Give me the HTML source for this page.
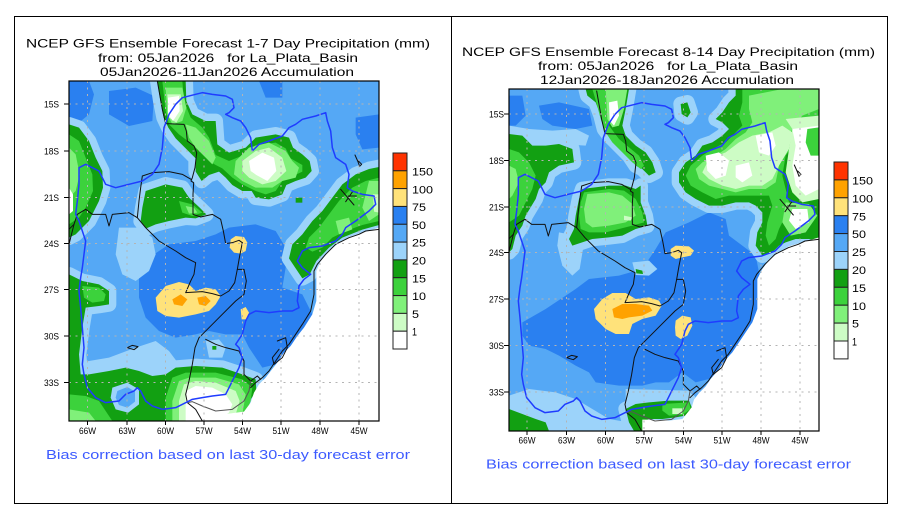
<!DOCTYPE html>
<html><head><meta charset="utf-8"><style>
html,body{margin:0;padding:0;background:#fff;}
svg{display:block;}
text{font-family:"Liberation Sans",sans-serif;}
</style></head><body>
<svg width="908" height="523" viewBox="0 0 908 523" xmlns="http://www.w3.org/2000/svg">
<defs>
<clipPath id="cL"><rect x="0" y="0" width="930" height="1020"/></clipPath>
<clipPath id="cR"><rect x="0" y="0" width="930" height="1026"/></clipPath>
<g id="borders" fill="none" stroke-linejoin="round" stroke-linecap="round">
 <g stroke="#111" stroke-width="3">
  <polyline points="265,0 272,40 280,85 290,128 345,130 352,150 355,180 375,195 383,215 378,260 370,290 366,300 374,305 372,340 372,400 395,408 430,400 455,415 463,450 470,488 490,485 510,478 520,485"/>
  <polyline points="366,295 340,280 300,272 250,275 220,285 215,320 210,360 205,410 180,395 130,400 120,435 110,400 70,400 50,385 25,400 15,430 0,445"/>
  <polyline points="15,430 5,470 0,490"/>
  <polyline points="205,410 230,440 270,480 320,510 350,530 380,545 375,580 365,600 350,635 400,632 430,638 455,645 480,630 497,605 505,565"/>
  <polyline points="520,485 512,525 505,565 525,565 532,600 525,640 500,660 460,700 420,740 390,770 378,800 370,850 360,900 350,940 355,965 380,985 400,1020"/>
  <polyline points="410,775 440,790 470,800 510,810 525,840 525,880 545,900 565,885 575,895"/>
  <polyline points="930,445 890,450 870,460 840,470 800,490 770,520 745,550 735,570 735,640 725,690 700,730 680,760 660,790 640,810 620,840 600,870 580,890 560,905 545,920"/>
  <polyline points="625,780 650,770 655,800 640,830 615,850 610,830 630,805"/>
  <polyline points="175,800 190,793 207,797 195,806 175,800"/>
  <polyline points="858,222 866,240 872,256 878,250 868,240"/>
  <line x1="815" y1="325" x2="855" y2="372"/><line x1="830" y1="362" x2="852" y2="330"/><line x1="838" y1="345" x2="862" y2="345"/>
 </g>
 <polyline stroke="#555" stroke-width="3" points="545,900 540,930 525,960 490,985 440,990 400,975 370,962 355,965"/>
 <polyline stroke="#1f3cff" stroke-width="4.5" points="285,140 300,100 320,70 340,50 380,40 400,35 430,40 470,45 490,55 495,80 480,95 470,100 490,110 515,120 530,140 545,170 550,210 570,190 600,180 640,165 660,140 680,130 700,115 740,105 770,95 775,120 785,150 790,200 800,230 830,250 840,280 835,320 850,330 880,340 915,345 920,370 900,390 860,420 830,440 820,460 800,480 760,495 720,500 700,510 685,540 700,560 725,580 705,595 690,615 685,660 690,680 670,690 640,690 600,695 560,690 540,700 530,720 520,760 500,790 510,800 520,830 510,860 495,890 480,920 470,940 430,945 400,950 370,955 350,965 320,980 280,985 250,975 230,960 215,930 205,920 195,930 170,940 150,960 110,965 80,950 55,920 45,880 40,850 45,800 40,740 35,680 30,630 35,590 40,560 45,520 50,480 40,450 30,420 20,400 25,360 30,310 30,260 50,250 70,260 90,270 100,290 110,310 140,320 180,310 220,300 250,280 270,250 280,200 285,140"/>
</g>
<polygon id="LgBol" points="265,0 350,0 352,60 370,100 410,120 440,120 445,190 480,215 530,200 560,170 620,160 660,170 672,200 700,220 722,240 728,270 710,290 680,300 652,312 640,340 600,355 560,350 548,330 520,330 490,312 470,290 450,272 420,282 398,300 380,272 380,232 350,202 320,172 298,140 284,110 274,60"/>
<polygon id="LgLeft" points="0,130 30,140 60,180 80,230 100,270 102,320 90,360 70,400 60,420 40,440 20,460 0,470"/>
<polygon id="LgLeft2" points="0,580 40,600 90,610 120,630 120,670 90,675 50,680 40,740 30,820 35,880 0,900"/>
<polygon id="LgChaco" points="230,330 290,310 340,320 360,350 392,380 412,400 380,412 350,410 300,420 260,430 232,442 215,420 220,380"/>
<polygon id="LgSE" points="930,258 930,432 880,446 820,470 780,500 742,540 722,580 700,592 680,562 660,532 670,490 700,460 730,420 760,390 790,350 820,310 860,280 900,264"/>
<polygon id="LgBot" points="0,880 60,880 120,870 170,860 210,870 250,885 290,880 320,860 380,855 460,860 520,880 560,895 562,930 545,955 530,990 400,1020 0,1020"/>
<polygon id="RgBol" points="230,0 360,0 350,60 340,110 350,140 380,170 410,190 430,220 440,250 420,260 400,240 380,230 360,200 330,170 300,140 285,120 275,80 260,40 235,20"/>
<polygon id="RgBig" points="680,0 930,0 930,460 900,450 860,450 830,460 810,470 790,490 760,500 740,470 745,430 760,400 760,370 740,350 720,340 680,340 640,350 600,350 560,330 530,310 510,280 510,250 530,220 560,200 580,170 610,160 640,140 660,120 640,100 620,90 640,70 660,40 680,20"/>
<polygon id="RgChaco" points="220,300 300,290 350,290 380,300 395,290 395,340 410,380 415,410 380,420 340,440 300,445 250,450 190,470 180,450 195,420 200,380 210,330"/>
<polygon id="RgLeft" points="0,135 40,140 70,170 110,170 150,165 190,180 195,220 150,230 120,250 110,280 90,300 80,330 50,380 40,410 20,440 10,480 0,490"/>
<polygon id="RgBot" points="350,960 380,945 420,940 480,935 540,935 550,960 530,980 500,985 460,990 420,990 400,1000 405,1026 375,1026 360,1000"/>
<polygon id="RgBL" points="0,960 40,975 80,990 110,1000 120,1026 0,1026"/>
<polygon id="RgDot" points="515,45 535,40 545,70 535,85 518,75"/>
</defs>

<rect width="908" height="523" fill="#fff"/>
<rect x="14.5" y="16.5" width="437" height="487" fill="none" stroke="#000" stroke-width="1"/>
<rect x="451.5" y="16.5" width="436" height="487" fill="none" stroke="#000" stroke-width="1"/>

<g font-size="12" fill="#000">
<text x="26" y="47.5" textLength="404" lengthAdjust="spacingAndGlyphs">NCEP GFS Ensemble Forecast 1-7 Day Precipitation (mm)</text>
<text x="98" y="62" textLength="260" lengthAdjust="spacingAndGlyphs">from: 05Jan2026&#160;&#160;&#160;for La_Plata_Basin</text>
<text x="100" y="76" textLength="254" lengthAdjust="spacingAndGlyphs">05Jan2026-11Jan2026 Accumulation</text>
<text x="462" y="56" textLength="413" lengthAdjust="spacingAndGlyphs">NCEP GFS Ensemble Forecast 8-14 Day Precipitation (mm)</text>
<text x="538" y="70" textLength="260" lengthAdjust="spacingAndGlyphs">from: 05Jan2026&#160;&#160;&#160;for La_Plata_Basin</text>
<text x="540" y="84" textLength="254" lengthAdjust="spacingAndGlyphs">12Jan2026-18Jan2026 Accumulation</text>
</g>

<!-- LEFT MAP -->
<g transform="translate(69,81) scale(0.333333)" clip-path="url(#cL)">
<rect width="930" height="1020" fill="#55A8F5"/>
<g fill="#2A80F0">
<polygon points="0,0 60,0 75,40 60,100 30,125 0,125"/>
<polygon points="120,30 200,20 255,45 250,120 180,135 120,100"/>
<polygon points="570,0 640,0 640,50 590,50"/>
<polygon points="860,110 930,100 930,200 880,205 860,160"/>
<polygon points="210,580 240,530 300,490 380,480 440,460 480,440 560,430 620,450 650,500 650,560 640,620 700,640 730,700 700,760 660,800 620,850 580,860 540,800 520,760 470,760 420,750 380,760 320,770 270,750 230,710 210,650"/>
</g>
<g fill="#9CD3FA">
<polygon points="150,440 210,440 250,470 260,520 240,570 200,600 160,580 140,520"/>
<polygon points="410,780 450,775 470,800 460,830 420,830"/>
<polygon points="0,850 60,840 120,830 200,800 260,780 300,810 330,850 300,870 0,890"/>
</g>
<g fill="#9CD3FA" stroke="#9CD3FA" stroke-width="44" stroke-linejoin="round">
<use href="#LgBol"/><use href="#LgLeft"/><use href="#LgLeft2"/><use href="#LgChaco"/><use href="#LgSE"/><use href="#LgBot"/>
</g>
<g fill="#12A012">
<use href="#LgBol"/><use href="#LgLeft"/><use href="#LgLeft2"/><use href="#LgChaco"/><use href="#LgSE"/><use href="#LgBot"/>
<polygon points="680,350 700,350 700,365 680,365"/>
<polygon points="430,795 442,795 442,806 430,806"/>
</g>
<g fill="#3CD23C">
<polygon points="280,0 340,0 345,60 365,110 400,140 420,170 440,222 480,240 530,220 560,192 620,185 650,202 665,232 700,252 700,272 670,286 640,300 620,330 590,340 560,330 520,310 490,290 460,262 440,252 420,240 400,212 370,190 330,160 300,130 290,90"/>
<polygon points="0,160 30,180 50,230 70,280 72,330 50,380 30,410 0,430"/>
<polygon points="40,615 90,620 110,640 105,660 70,665 45,650"/>
<polygon points="330,360 370,370 400,395 370,405 340,395"/>
<polygon points="930,290 930,420 880,432 830,450 790,470 760,500 730,512 710,500 720,470 750,440 780,400 810,360 850,320 890,300"/>
<polygon points="0,940 50,945 90,960 110,990 130,1020 0,1020"/>
<polygon points="290,950 310,890 350,875 440,875 520,895 550,920 545,960 530,1000 400,1020 290,1020"/>
</g>
<g fill="#80F07A">
<polygon points="290,20 340,20 352,80 340,120 310,130 295,100"/>
<polygon points="350,130 380,140 420,180 440,230 430,250 410,230 380,200 360,170"/>
<polygon points="500,240 540,200 600,185 650,210 670,240 690,260 680,290 640,300 610,320 560,320 520,300 495,280"/>
<polygon points="0,200 20,220 32,280 20,330 0,350"/>
<polygon points="350,375 375,380 385,395 360,398"/>
<polygon points="900,300 930,300 930,400 900,420 880,380 890,340"/>
<polygon points="800,420 840,410 850,445 810,460"/>
<polygon points="0,985 60,995 80,1020 0,1020"/>
<polygon points="310,960 330,900 360,890 440,890 510,910 530,940 520,1000 400,1020 310,1020"/>
</g>
<g fill="#CDFCC5">
<polygon points="295,40 335,40 342,90 322,125 300,110"/>
<polygon points="520,240 560,210 600,200 640,230 652,270 620,300 580,310 540,290 520,270"/>
<polygon points="912,340 930,340 930,395 915,392"/>
<polygon points="330,960 345,910 380,900 440,905 500,930 512,960 500,1000 400,1020 330,1020"/>
</g>
<g fill="#fff">
<polygon points="297,50 330,45 332,90 312,120 297,100"/>
<polygon points="540,240 580,215 615,230 622,270 595,300 562,282 545,270"/>
<polygon points="0,320 12,340 12,390 0,400"/>
<polygon points="350,930 380,915 430,920 470,940 490,970 480,995 420,1020 350,1020"/>
</g>
<polygon fill="#9CD3FA" points="130,920 175,905 210,925 210,970 178,995 140,985 125,950"/>
<polygon fill="#55A8F5" points="145,930 175,918 198,932 198,962 175,980 150,972 140,950"/>
<g fill="#FFE27A">
<polygon points="485,475 500,465 525,468 535,485 530,510 515,518 495,515 482,500"/>
<polygon points="260,650 290,615 330,603 360,610 380,630 410,620 440,625 455,645 440,670 420,690 380,700 330,710 290,705 265,690"/>
<polygon points="515,685 530,678 540,695 535,715 518,715"/>
</g>
<g fill="#FFA200">
<polygon points="310,655 335,640 355,655 340,675 315,670"/>
<polygon points="385,650 410,645 425,660 410,675 390,670"/>
</g>
<polygon fill="#fff" points="930,440 880,455 840,468 810,485 780,510 755,540 742,570 742,660 730,700 705,740 685,765 665,795 645,815 625,845 605,870 590,890 570,910 555,935 545,965 525,992 480,998 430,992 400,985 400,1020 930,1020"/>
<use href="#borders"/>
</g>

<g stroke="#b4b4b4" stroke-width="1" stroke-dasharray="2,4.5">
<line x1="87.5" y1="81" x2="87.5" y2="421"/><line x1="127" y1="81" x2="127" y2="421"/><line x1="165.5" y1="81" x2="165.5" y2="421"/><line x1="204" y1="81" x2="204" y2="421"/><line x1="242.5" y1="81" x2="242.5" y2="421"/><line x1="281" y1="81" x2="281" y2="421"/><line x1="320" y1="81" x2="320" y2="421"/><line x1="359" y1="81" x2="359" y2="421"/>
<line x1="69" y1="104" x2="379" y2="104"/><line x1="69" y1="151" x2="379" y2="151"/><line x1="69" y1="197.5" x2="379" y2="197.5"/><line x1="69" y1="243.5" x2="379" y2="243.5"/><line x1="69" y1="289.5" x2="379" y2="289.5"/><line x1="69" y1="336" x2="379" y2="336"/><line x1="69" y1="382.5" x2="379" y2="382.5"/>
</g>
<rect x="69" y="81" width="310" height="340" fill="none" stroke="#000" stroke-width="1.2"/>
<g stroke="#000" stroke-width="1">
<line x1="64" y1="104" x2="69" y2="104"/><line x1="64" y1="151" x2="69" y2="151"/><line x1="64" y1="197.5" x2="69" y2="197.5"/><line x1="64" y1="243.5" x2="69" y2="243.5"/><line x1="64" y1="289.5" x2="69" y2="289.5"/><line x1="64" y1="336" x2="69" y2="336"/><line x1="64" y1="382.5" x2="69" y2="382.5"/>
<line x1="87.5" y1="421" x2="87.5" y2="425"/><line x1="127" y1="421" x2="127" y2="425"/><line x1="165.5" y1="421" x2="165.5" y2="425"/><line x1="204" y1="421" x2="204" y2="425"/><line x1="242.5" y1="421" x2="242.5" y2="425"/><line x1="281" y1="421" x2="281" y2="425"/><line x1="320" y1="421" x2="320" y2="425"/><line x1="359" y1="421" x2="359" y2="425"/>
</g>
<g font-size="9" fill="#000" text-anchor="end">
<text x="59" y="107.5" textLength="15" lengthAdjust="spacingAndGlyphs">15S</text>
<text x="59" y="154.5" textLength="15" lengthAdjust="spacingAndGlyphs">18S</text>
<text x="59" y="201" textLength="15" lengthAdjust="spacingAndGlyphs">21S</text>
<text x="59" y="247" textLength="15" lengthAdjust="spacingAndGlyphs">24S</text>
<text x="59" y="293" textLength="15" lengthAdjust="spacingAndGlyphs">27S</text>
<text x="59" y="339.5" textLength="15" lengthAdjust="spacingAndGlyphs">30S</text>
<text x="59" y="386" textLength="15" lengthAdjust="spacingAndGlyphs">33S</text>
</g>
<g font-size="9.5" fill="#000">
<text x="79" y="434" textLength="17" lengthAdjust="spacingAndGlyphs">66W</text>
<text x="118.5" y="434" textLength="17" lengthAdjust="spacingAndGlyphs">63W</text>
<text x="157" y="434" textLength="17" lengthAdjust="spacingAndGlyphs">60W</text>
<text x="195.5" y="434" textLength="17" lengthAdjust="spacingAndGlyphs">57W</text>
<text x="234" y="434" textLength="17" lengthAdjust="spacingAndGlyphs">54W</text>
<text x="272.5" y="434" textLength="17" lengthAdjust="spacingAndGlyphs">51W</text>
<text x="311.5" y="434" textLength="17" lengthAdjust="spacingAndGlyphs">48W</text>
<text x="350.5" y="434" textLength="17" lengthAdjust="spacingAndGlyphs">45W</text>
</g>

<g stroke="#222" stroke-width="1">
<rect x="393" y="153" width="14" height="17.8" fill="#FF3300"/>
<rect x="393" y="170.8" width="14" height="17.8" fill="#FFA200"/>
<rect x="393" y="188.6" width="14" height="17.8" fill="#FFE27A"/>
<rect x="393" y="206.5" width="14" height="17.8" fill="#2A80F0"/>
<rect x="393" y="224.3" width="14" height="17.8" fill="#55A8F5"/>
<rect x="393" y="242.1" width="14" height="17.8" fill="#9CD3FA"/>
<rect x="393" y="259.9" width="14" height="17.8" fill="#12A012"/>
<rect x="393" y="277.7" width="14" height="17.8" fill="#3CD23C"/>
<rect x="393" y="295.6" width="14" height="17.8" fill="#80F07A"/>
<rect x="393" y="313.4" width="14" height="17.8" fill="#CDFCC5"/>
<rect x="393" y="331.2" width="14" height="17.8" fill="#fff"/>
</g>
<g font-size="11" fill="#000">
<text x="412" y="175.5" textLength="21" lengthAdjust="spacingAndGlyphs">150</text>
<text x="412" y="193.3" textLength="21" lengthAdjust="spacingAndGlyphs">100</text>
<text x="412" y="211" textLength="14" lengthAdjust="spacingAndGlyphs">75</text>
<text x="412" y="228.8" textLength="14" lengthAdjust="spacingAndGlyphs">50</text>
<text x="412" y="246.6" textLength="14" lengthAdjust="spacingAndGlyphs">25</text>
<text x="412" y="264.4" textLength="14" lengthAdjust="spacingAndGlyphs">20</text>
<text x="412" y="282.3" textLength="14" lengthAdjust="spacingAndGlyphs">15</text>
<text x="412" y="300.1" textLength="14" lengthAdjust="spacingAndGlyphs">10</text>
<text x="412" y="317.9" textLength="7" lengthAdjust="spacingAndGlyphs">5</text>
<text x="412" y="335.7" textLength="5" lengthAdjust="spacingAndGlyphs">1</text>
</g>
<text x="46" y="459" font-size="12.5" fill="#3c5aff" textLength="364" lengthAdjust="spacingAndGlyphs">Bias correction based on last 30-day forecast error</text>

<!-- RIGHT MAP -->
<g transform="translate(509,89) scale(0.333333)" clip-path="url(#cR)">
<rect width="930" height="1026" fill="#55A8F5"/>
<g fill="#2A80F0">
<polygon points="0,20 40,20 50,80 20,110 0,110"/>
<polygon points="90,50 150,40 240,60 250,110 200,120 130,110 100,90"/>
<polygon points="40,700 110,660 200,600 240,570 330,560 400,540 440,480 470,430 540,400 600,370 650,390 660,440 700,470 740,500 760,600 740,700 720,780 680,820 640,850 600,870 560,880 520,850 480,880 440,880 400,890 330,890 260,880 240,850 200,830 150,800 110,780 60,770 40,740"/>
</g>
<g fill="#9CD3FA">
<polygon points="0,110 60,120 130,125 200,120 240,140 230,170 150,165 60,160 0,150"/>
<polygon points="150,430 200,440 222,480 212,540 190,560 160,530 145,470"/>
<polygon points="370,520 420,515 445,540 420,560 380,558"/>
<polygon points="0,920 60,900 140,910 200,930 250,960 300,990 360,1000 380,1026 0,1026"/>
<polygon points="350,900 540,905 560,930 350,950"/>
</g>
<g fill="#9CD3FA" stroke="#9CD3FA" stroke-width="44" stroke-linejoin="round">
<use href="#RgBol"/><use href="#RgBig"/><use href="#RgChaco"/><use href="#RgLeft"/><use href="#RgBot"/><use href="#RgDot"/>
</g>
<g fill="#12A012">
<use href="#RgBol"/><use href="#RgBig"/><use href="#RgChaco"/><use href="#RgLeft"/><use href="#RgBot"/><use href="#RgBL"/><use href="#RgDot"/>
<polygon points="380,540 400,545 402,555 382,553"/>
</g>
<g fill="#3CD23C">
<polygon points="250,0 300,0 295,60 300,110 330,150 360,175 390,200 405,230 395,240 370,220 340,190 310,160 290,130 275,90 262,40"/>
<polygon points="700,0 930,0 930,100 880,120 860,160 830,200 820,260 830,300 840,340 830,380 810,420 800,450 780,470 770,440 775,400 790,350 780,320 740,320 700,320 660,320 620,330 580,310 545,290 530,260 545,230 580,200 610,180 650,160 680,130 700,110 690,80 700,40"/>
<polygon points="225,310 300,300 345,305 380,330 400,370 405,400 370,410 330,420 290,430 240,430 215,420 210,380 215,340"/>
<polygon points="0,180 30,190 60,220 80,260 70,300 50,340 30,380 0,400"/>
<polygon points="460,945 540,940 545,960 520,978 480,980 460,965"/>
</g>
<g fill="#80F07A">
<polygon points="290,0 355,0 345,60 330,110 310,115 295,90"/>
<polygon points="720,20 820,0 930,0 930,60 880,80 850,120 820,180 810,230 800,280 770,300 720,300 680,310 640,300 600,290 570,270 560,240 580,220 620,200 650,180 680,150 710,130 730,100 720,60"/>
<polygon points="235,315 300,310 340,320 370,345 380,380 350,400 300,410 250,415 230,400 225,360"/>
<polygon points="0,230 20,240 30,280 10,320 0,330"/>
<polygon points="830,340 900,345 925,380 890,430 845,440 820,400"/>
</g>
<g fill="#CDFCC5">
<polygon points="600,210 650,190 690,160 730,140 780,130 820,110 850,130 840,180 810,230 790,270 760,290 720,290 680,300 640,290 600,270 580,250"/>
<polygon points="830,90 930,80 930,330 880,340 850,310 830,250 840,180 850,120"/>
<polygon points="345,380 370,385 365,395 345,393"/>
<polygon points="490,958 520,958 520,975 490,975"/>
</g>
<g fill="#fff">
<polygon points="300,40 325,35 330,80 315,110 302,95"/>
<polygon points="590,200 630,190 660,215 650,260 620,270 595,245"/>
<polygon points="680,230 720,220 730,260 700,280 680,265"/>
<polygon points="740,140 790,130 800,170 780,200 750,190"/>
<polygon points="850,120 930,110 930,300 890,320 860,290 850,230 860,170"/>
<polygon points="850,360 895,360 900,400 860,420 840,395"/>
</g>
<polygon fill="#3CD23C" points="895,120 930,115 930,200 905,200 890,160"/>
<g fill="#FFE27A">
<polygon points="485,480 500,470 540,472 555,485 545,500 520,505 500,510 485,500"/>
<polygon points="255,660 280,630 310,612 350,612 380,630 420,625 450,635 458,650 440,680 400,690 370,705 360,735 320,735 290,720 260,690"/>
<polygon points="500,695 520,680 545,685 550,710 535,740 515,750 500,740 498,715"/>
</g>
<polygon fill="#FFA200" points="310,660 340,645 380,645 420,650 430,665 400,680 360,685 340,690 315,685"/>
<polygon fill="#fff" points="930,445 880,460 840,472 810,490 780,512 760,540 745,570 745,660 730,700 710,730 690,760 670,790 650,812 630,840 605,870 590,892 570,912 555,932 548,955 538,968 520,990 480,995 430,992 400,992 400,1026 930,1026"/>
<use href="#borders" transform="translate(-2,6)"/>
</g>

<g stroke="#b4b4b4" stroke-width="1" stroke-dasharray="2,4.5">
<line x1="527" y1="89" x2="527" y2="431"/><line x1="566.5" y1="89" x2="566.5" y2="431"/><line x1="605.5" y1="89" x2="605.5" y2="431"/><line x1="644" y1="89" x2="644" y2="431"/><line x1="683.5" y1="89" x2="683.5" y2="431"/><line x1="722" y1="89" x2="722" y2="431"/><line x1="761" y1="89" x2="761" y2="431"/><line x1="800" y1="89" x2="800" y2="431"/>
<line x1="509" y1="114" x2="819" y2="114"/><line x1="509" y1="160.5" x2="819" y2="160.5"/><line x1="509" y1="207" x2="819" y2="207"/><line x1="509" y1="252.5" x2="819" y2="252.5"/><line x1="509" y1="299" x2="819" y2="299"/><line x1="509" y1="345.5" x2="819" y2="345.5"/><line x1="509" y1="392" x2="819" y2="392"/>
</g>
<rect x="509" y="89" width="310" height="342" fill="none" stroke="#000" stroke-width="1.2"/>
<g stroke="#000" stroke-width="1">
<line x1="504" y1="114" x2="509" y2="114"/><line x1="504" y1="160.5" x2="509" y2="160.5"/><line x1="504" y1="207" x2="509" y2="207"/><line x1="504" y1="252.5" x2="509" y2="252.5"/><line x1="504" y1="299" x2="509" y2="299"/><line x1="504" y1="345.5" x2="509" y2="345.5"/><line x1="504" y1="392" x2="509" y2="392"/>
<line x1="527" y1="431" x2="527" y2="435"/><line x1="566.5" y1="431" x2="566.5" y2="435"/><line x1="605.5" y1="431" x2="605.5" y2="435"/><line x1="644" y1="431" x2="644" y2="435"/><line x1="683.5" y1="431" x2="683.5" y2="435"/><line x1="722" y1="431" x2="722" y2="435"/><line x1="761" y1="431" x2="761" y2="435"/><line x1="800" y1="431" x2="800" y2="435"/>
</g>
<g font-size="9" fill="#000" text-anchor="end">
<text x="504" y="117.5" textLength="15" lengthAdjust="spacingAndGlyphs">15S</text>
<text x="504" y="164" textLength="15" lengthAdjust="spacingAndGlyphs">18S</text>
<text x="504" y="210.5" textLength="15" lengthAdjust="spacingAndGlyphs">21S</text>
<text x="504" y="256" textLength="15" lengthAdjust="spacingAndGlyphs">24S</text>
<text x="504" y="302.5" textLength="15" lengthAdjust="spacingAndGlyphs">27S</text>
<text x="504" y="349" textLength="15" lengthAdjust="spacingAndGlyphs">30S</text>
<text x="504" y="395.5" textLength="15" lengthAdjust="spacingAndGlyphs">33S</text>
</g>
<g font-size="9.5" fill="#000">
<text x="518.5" y="443.5" textLength="17" lengthAdjust="spacingAndGlyphs">66W</text>
<text x="558" y="443.5" textLength="17" lengthAdjust="spacingAndGlyphs">63W</text>
<text x="597" y="443.5" textLength="17" lengthAdjust="spacingAndGlyphs">60W</text>
<text x="635.5" y="443.5" textLength="17" lengthAdjust="spacingAndGlyphs">57W</text>
<text x="675" y="443.5" textLength="17" lengthAdjust="spacingAndGlyphs">54W</text>
<text x="713.5" y="443.5" textLength="17" lengthAdjust="spacingAndGlyphs">51W</text>
<text x="752.5" y="443.5" textLength="17" lengthAdjust="spacingAndGlyphs">48W</text>
<text x="791.5" y="443.5" textLength="17" lengthAdjust="spacingAndGlyphs">45W</text>
</g>

<g stroke="#222" stroke-width="1">
<rect x="834" y="162" width="14" height="17.9" fill="#FF3300"/>
<rect x="834" y="179.9" width="14" height="17.9" fill="#FFA200"/>
<rect x="834" y="197.8" width="14" height="17.9" fill="#FFE27A"/>
<rect x="834" y="215.7" width="14" height="17.9" fill="#2A80F0"/>
<rect x="834" y="233.6" width="14" height="17.9" fill="#55A8F5"/>
<rect x="834" y="251.5" width="14" height="17.9" fill="#9CD3FA"/>
<rect x="834" y="269.4" width="14" height="17.9" fill="#12A012"/>
<rect x="834" y="287.3" width="14" height="17.9" fill="#3CD23C"/>
<rect x="834" y="305.2" width="14" height="17.9" fill="#80F07A"/>
<rect x="834" y="323.1" width="14" height="17.9" fill="#CDFCC5"/>
<rect x="834" y="341" width="14" height="17.9" fill="#fff"/>
</g>
<g font-size="11" fill="#000">
<text x="852" y="184.5" textLength="21" lengthAdjust="spacingAndGlyphs">150</text>
<text x="852" y="202.4" textLength="21" lengthAdjust="spacingAndGlyphs">100</text>
<text x="852" y="220.3" textLength="14" lengthAdjust="spacingAndGlyphs">75</text>
<text x="852" y="238.2" textLength="14" lengthAdjust="spacingAndGlyphs">50</text>
<text x="852" y="256.1" textLength="14" lengthAdjust="spacingAndGlyphs">25</text>
<text x="852" y="274" textLength="14" lengthAdjust="spacingAndGlyphs">20</text>
<text x="852" y="291.9" textLength="14" lengthAdjust="spacingAndGlyphs">15</text>
<text x="852" y="309.8" textLength="14" lengthAdjust="spacingAndGlyphs">10</text>
<text x="852" y="327.7" textLength="7" lengthAdjust="spacingAndGlyphs">5</text>
<text x="852" y="345.6" textLength="5" lengthAdjust="spacingAndGlyphs">1</text>
</g>
<text x="486" y="468.5" font-size="12.5" fill="#3c5aff" textLength="365" lengthAdjust="spacingAndGlyphs">Bias correction based on last 30-day forecast error</text>
</svg>
</body></html>
